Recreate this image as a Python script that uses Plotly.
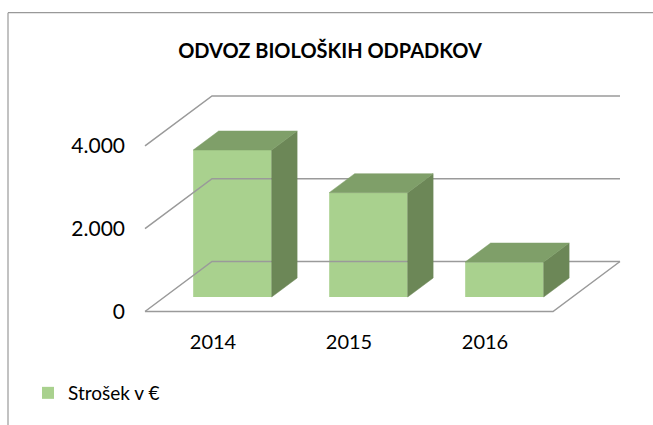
import plotly.graph_objects as go

# data
years = ["2014", "2015", "2016"]
cost = [3550, 2520, 845]
y_tick_vals = [0, 2000, 4000]
y_tick_text = ["0", "2.000", "4.000"]
series_name = "Strošek v €"
chart_title = "ODVOZ BIOLOŠKIH ODPADKOV"

# page / projection constants
W, H = 653, 425
X0_PX, Y0_PX = 145, 311.5      # front-left floor corner in pixels
PX_PER_CAT = 136.0
PX_PER_VAL = 0.0414
DX = 67 / PX_PER_CAT           # depth offset in category units
DY = 50 / PX_PER_VAL           # depth offset in value units
BAR_W = 0.577
BAR_D0, BAR_D = 0.29, 0.38     # bar start depth and bar depth (fractions of floor depth)

FRONT = "#A9D18E"
SIDE = "#6C8757"
TOP = "#7F9F69"
GRID = "#9A9A9A"
FONT = "Lato, 'Open Sans', sans-serif"

# plot area
L, R, T, B = 140, W - 630, 85, H - 316
PW, PH = W - L - R, H - T - B
x_range = [(L - X0_PX) / PX_PER_CAT, (W - R - X0_PX) / PX_PER_CAT]
y_range = [-(H - B - Y0_PX) / PX_PER_VAL, (Y0_PX - T) / PX_PER_VAL]

n = len(years)
fig = go.Figure()

# walls / floor gridlines
gx, gy = [], []
for g in y_tick_vals:
    gx += [0, DX, n + DX, None]
    gy += [g, g + DY, g + DY, None]
gx += [0, n, n + DX, None]
gy += [0, 0, DY, None]
fig.add_trace(go.Scatter(x=gx, y=gy, mode="lines", line=dict(color=GRID, width=1.5),
                         hoverinfo="skip", showlegend=False))

# front faces
base = BAR_D0 * DY
xc = [i + 0.5 + BAR_D0 * DX for i in range(n)]
fig.add_trace(go.Bar(x=xc, y=cost, base=[base] * n, width=BAR_W, name=series_name,
                     marker=dict(color=FRONT, line=dict(width=0)), showlegend=True))

# side and top faces
ddx, ddy = BAR_D * DX, BAR_D * DY
for c, v in zip(xc, cost):
    xl, xr = c - BAR_W / 2, c + BAR_W / 2
    top = base + v
    fig.add_trace(go.Scatter(
        x=[xr, xr, xr + ddx, xr + ddx, xr], y=[base, top, top + ddy, base + ddy, base],
        fill="toself", fillcolor=SIDE, mode="lines", line=dict(color=SIDE, width=0.5),
        hoverinfo="skip", showlegend=False))
    fig.add_trace(go.Scatter(
        x=[xl, xr, xr + ddx, xl + ddx, xl], y=[top, top, top + ddy, top + ddy, top],
        fill="toself", fillcolor=TOP, mode="lines", line=dict(color=TOP, width=0.5),
        hoverinfo="skip", showlegend=False))


def px(xp):
    return (xp - L) / PW


def py(yp):
    return (H - yp - B) / PH


# chart border
shapes = [
    dict(type="line", xref="paper", yref="paper", x0=px(8), x1=px(W + 5), y0=py(12.7), y1=py(12.7),
         line=dict(color="#999999", width=1.2)),
    dict(type="line", xref="paper", yref="paper", x0=px(8), x1=px(8), y0=py(12.7), y1=py(H + 5),
         line=dict(color="#999999", width=1.2)),
]

fig.update_layout(
    width=W, height=H,
    margin=dict(l=L, r=R, t=T, b=B, autoexpand=False),
    paper_bgcolor="white", plot_bgcolor="rgba(0,0,0,0)",
    separators=",.",
    barmode="overlay",
    title=dict(text=f"<b>{chart_title}</b>", x=330 / W, y=1 - 51 / H, xanchor="center", yanchor="middle",
               xref="container", yref="container", font=dict(family=FONT, size=20, color="#000000")),
    xaxis=dict(range=x_range, showgrid=False, zeroline=False, showline=False, ticks="", automargin=False,
               tickvals=[i + 0.5 for i in range(n)], ticktext=years, ticklabelstandoff=12,
               tickfont=dict(family=FONT, size=20, color="#000000")),
    yaxis=dict(range=y_range, showgrid=False, zeroline=False, showline=False, ticks="", automargin=False,
               tickvals=y_tick_vals, ticktext=y_tick_text, ticklabelstandoff=14,
               tickfont=dict(family=FONT, size=21, color="#000000")),
    legend=dict(xref="container", yref="container", x=28 / W, y=1 - 393 / H, xanchor="left", yanchor="middle",
                font=dict(family=FONT, size=19, color="#000000"), bgcolor="rgba(0,0,0,0)"),
    shapes=shapes,
)

fig.write_html("out.html", config={"displayModeBar": False},
               post_script="document.body.style.margin='0';")
